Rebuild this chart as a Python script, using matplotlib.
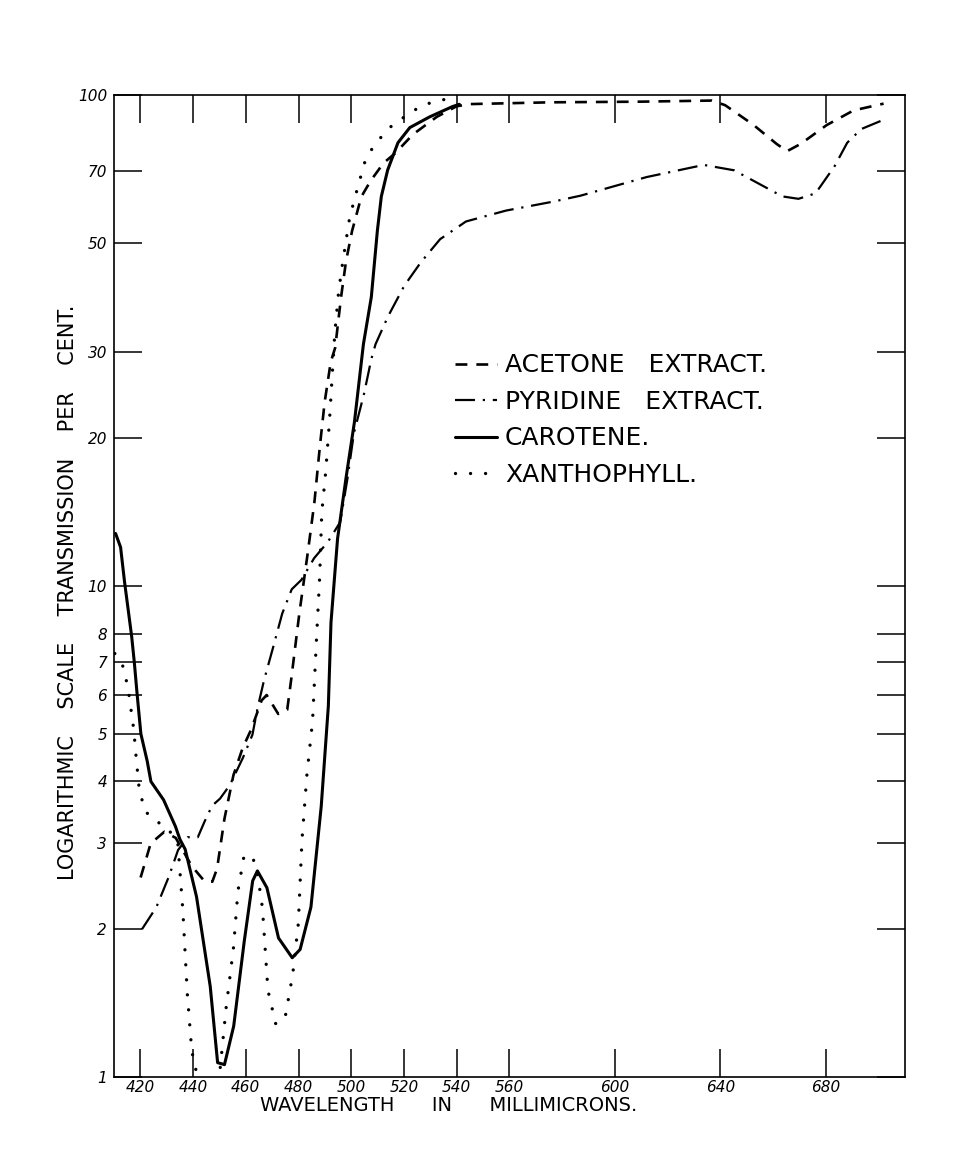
import matplotlib
matplotlib.use("Agg")
import matplotlib.pyplot as plt
from matplotlib.ticker import NullLocator

# values (wavelength in millimicrons, transmission %)
acetone_nm = [420.1, 423.9, 429.1, 433.4, 439.5, 444.2, 447.3, 449.1, 451.9, 455.3,
              458.8, 462.0, 466.0, 467.9, 472.3, 475.7, 477.2, 480.3, 483.5, 486.0,
              488.1, 489.9, 492.2, 493.9, 496.1, 498.0, 500.3, 503.8, 507.4, 512.2,
              516.7, 523.4, 532.4, 539.9, 544.8, 575.5, 610.0, 636.8, 641.8, 652.4,
              661.4, 665.3, 670.5, 680.3, 690.5, 701.9]
acetone_pct = [2.55, 2.99, 3.16, 3.07, 2.69, 2.51, 2.50, 2.66, 3.36, 4.12,
               4.68, 5.1, 5.85, 6.0, 5.49, 5.60, 6.45, 8.8, 11.7, 14.8,
               19.3, 23.7, 28.6, 30.6, 38.7, 45.9, 52.9, 62.1, 67.0, 72.7,
               76.2, 83.2, 90.3, 94.9, 95.9, 96.7, 97.0, 97.5, 95.4, 87.1,
               79.5, 76.9, 79.6, 86.9, 93.1, 96.1]

pyridine_nm = [420.6, 426.1, 430.8, 434.3, 438.0, 441.8, 444.3, 447.2, 450.2, 453.9,
               458.9, 462.5, 464.5, 466.9, 470.4, 473.8, 477.4, 481.1, 485.9, 491.1,
               495.8, 498.5, 501.0, 504.8, 507.6, 509.2, 513.9, 520.1, 526.3, 533.7,
               543.5, 558.7, 576.6, 586.9, 612.0, 633.7, 645.2, 663.5, 669.6, 676.1,
               683.4, 688.1, 693.4, 702.1]
pyridine_pct = [2.0, 2.22, 2.56, 2.90, 3.08, 3.08, 3.31, 3.57, 3.69, 3.93,
                4.47, 4.98, 5.66, 6.43, 7.52, 8.79, 9.85, 10.3, 11.4, 12.3,
                13.5, 16.5, 20.5, 24.6, 29.0, 31.1, 35.4, 40.9, 45.6, 50.9,
                55.3, 58.2, 60.7, 62.4, 68.1, 72.1, 70.3, 62.2, 61.5, 63.1,
                71.8, 80.0, 85.3, 89.2]

carotene_nm = [410.6, 412.5, 414.0, 416.7, 417.7, 418.8, 420.2, 422.6, 424.0, 428.8,
               433.3, 435.0, 437.0, 441.3, 446.5, 449.3, 451.9, 455.4, 459.4, 462.6,
               464.4, 468.0, 472.4, 477.6, 480.6, 484.7, 488.6, 491.3, 492.3, 494.8,
               498.0, 501.2, 504.6, 507.6, 509.9, 511.4, 513.8, 517.7, 522.2, 529.7,
               538.4, 541.0]
carotene_pct = [12.8, 12.0, 10.2, 7.9, 7.0, 6.0, 5.0, 4.4, 4.0, 3.67,
                3.24, 3.05, 2.91, 2.33, 1.53, 1.07, 1.06, 1.27, 1.89, 2.51,
                2.63, 2.43, 1.92, 1.75, 1.82, 2.22, 3.56, 5.7, 8.43, 12.5,
                16.6, 21.6, 31.1, 38.8, 53.0, 62.2, 70.4, 80.0, 85.9, 90.3,
                94.8, 95.8]

xantho_nm = [410.3, 413.1, 415.3, 417.5, 418.2, 419.5, 421.6, 425.2, 430.2, 434.2,
             436.1, 437.8, 439.5, 441.3, 445.0, 450.1, 452.5, 455.3, 457.0, 459.3,
             461.9, 464.0, 466.3, 468.4, 471.4, 475.1, 477.8, 479.9, 481.3, 483.2,
             485.3, 486.8, 488.0, 488.8, 490.3, 491.7, 493.0, 493.8, 495.2, 496.8,
             499.4, 502.5, 505.3, 507.9, 511.9, 515.6, 520.9, 526.9, 534.5, 537.0]
xantho_pct = [7.29, 6.95, 6.22, 5.1, 4.6, 3.89, 3.49, 3.34, 3.22, 3.0,
              2.19, 1.48, 1.13, 1.02, 0.85, 1.02, 1.38, 1.83, 2.39, 2.82,
              2.83, 2.70, 2.21, 1.50, 1.28, 1.34, 1.62, 2.05, 3.04, 4.15,
              5.3, 7.8, 10.4, 14.1, 17.1, 21.6, 28.2, 33.0, 39.8, 45.9,
              56.4, 65.1, 73.6, 77.8, 82.9, 86.9, 90.9, 95.4, 97.9, 98.0]

x_ticks = [420, 440, 460, 480, 500, 520, 540, 560, 600, 640, 680]
y_ticks = [1, 2, 3, 4, 5, 6, 7, 8, 10, 20, 30, 50, 70, 100]

fig = plt.figure(figsize=(9.62, 11.72), dpi=100)
ax = fig.add_axes([0.1185, 0.081, 0.8222, 0.8378])

ax.plot(acetone_nm, acetone_pct, color="black", lw=1.9,
        linestyle=(0, (4.5, 3.4)), label="ACETONE   EXTRACT.")
ax.plot(pyridine_nm, pyridine_pct, color="black", lw=1.6,
        linestyle=(0, (9, 3.5, 1, 3.5)), label="PYRIDINE   EXTRACT.")
ax.plot(carotene_nm, carotene_pct, color="black", lw=2.2,
        solid_capstyle="round", label="CAROTENE.")
ax.plot(xantho_nm, xantho_pct, color="black", lw=2.4,
        linestyle=(0, (0.01, 4.5)), dash_capstyle="round", label="XANTHOPHYLL.")

ax.set_yscale("log")
ax.set_xlim(410, 710)
ax.set_ylim(1, 100)

ax.set_xticks(x_ticks)
ax.set_xticklabels([str(t) for t in x_ticks])
ax.set_yticks(y_ticks)
ax.set_yticklabels([str(t) for t in y_ticks])
ax.yaxis.set_minor_locator(NullLocator())
ax.tick_params(axis="both", which="major", direction="in", length=20, width=1.1,
               top=True, right=True, labelsize=11)
ax.tick_params(axis="x", pad=2)
ax.tick_params(axis="y", pad=5)
for lbl in ax.get_xticklabels() + ax.get_yticklabels():
    lbl.set_style("italic")

for sp in ax.spines.values():
    sp.set_linewidth(1.2)

ax.set_xlabel("WAVELENGTH      IN      MILLIMICRONS.", fontsize=14)
ax.xaxis.set_label_coords(0.4235, -0.019)
ax.set_ylabel("LOGARITHMIC    SCALE    TRANSMISSION    PER    CENT.", fontsize=15)
ax.yaxis.set_label_coords(-0.046, 0.494)

ax.legend(loc="upper left", bbox_to_anchor=(0.431, 0.737), frameon=False,
          fontsize=18, handlelength=1.7, handletextpad=0.3, labelspacing=0.5,
          borderpad=0, borderaxespad=0)

fig.savefig("out.png", dpi=100)
